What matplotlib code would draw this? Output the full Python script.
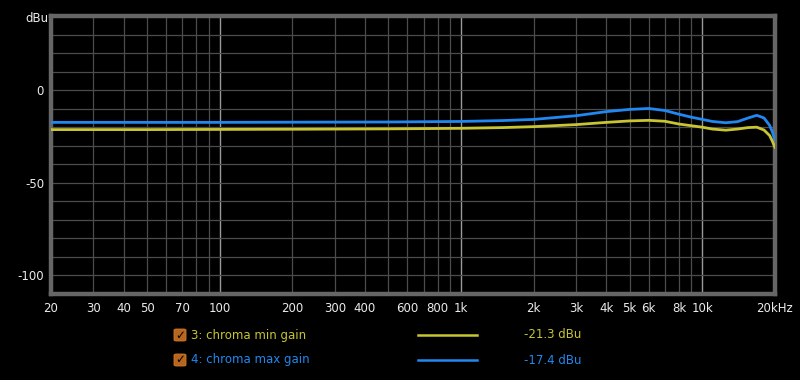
import matplotlib
matplotlib.use("Agg")
import matplotlib.pyplot as plt
from matplotlib.patches import FancyBboxPatch
from matplotlib.lines import Line2D

# ---- data ----
freqs = [20, 50, 100, 200, 500, 1000, 1500, 2000, 3000, 4000, 5000, 6000, 7000,
         8000, 9000, 10000, 11000, 12500, 14000, 15500, 16800, 18000, 19000, 19500, 20000]
min_gain = [-21.3, -21.3, -21.2, -21.1, -20.9, -20.6, -20.2, -19.7, -18.6, -17.4, -16.6,
            -16.3, -16.8, -18.3, -19.2, -20.0, -21.0, -21.6, -21.0, -20.2, -20.0, -21.5,
            -24.5, -27.5, -31.0]
max_gain = [-17.4, -17.4, -17.4, -17.3, -17.2, -16.9, -16.4, -15.8, -13.8, -11.6, -10.4,
            -9.9, -11.0, -13.0, -14.6, -15.8, -16.9, -17.6, -17.0, -15.0, -13.6, -15.0,
            -19.0, -22.5, -27.0]
series_names = ["3: chroma min gain", "4: chroma max gain"]
series_values = ["-21.3 dBu", "-17.4 dBu"]
xtick_vals = [20, 30, 40, 50, 70, 100, 200, 300, 400, 600, 800, 1000, 2000, 3000, 4000,
              5000, 6000, 8000, 10000, 20000]
xtick_labels = ["20", "30", "40", "50", "70", "100", "200", "300", "400", "600", "800",
                "1k", "2k", "3k", "4k", "5k", "6k", "8k", "10k", "20kHz"]
ytick_vals = [0, -50, -100]
ytick_labels = ["0", "-50", "-100"]

# ---- style ----
YEL = "#c8c432"
BLU = "#2088f0"
TXT = "#ebebeb"
plt.rcParams['font.family'] = ['DejaVu Sans']

fig = plt.figure(figsize=(8, 3.8), dpi=100, facecolor="black")
ax = fig.add_axes([51/800, 1-294/380, 724/800, 278/380])
ax.set_facecolor("black")
ax.set_xscale("log")
ax.set_xlim(20, 20000)
ax.set_ylim(-110, 40)

# grid
for dec in [10, 100, 1000, 10000]:
    for m in range(1, 10):
        f = dec * m
        if 20 <= f <= 20000:
            major = m == 1
            ax.axvline(f, color="#9a9a9a" if major else "#4c4c4c",
                       lw=1.0 if major else 0.9, zorder=1)
for yv in range(-100, 31, 10):
    ax.axhline(yv, color="#4c4c4c", lw=0.9, zorder=1)

ax.plot(freqs, min_gain, color=YEL, lw=2.0, zorder=3, solid_capstyle="round")
ax.plot(freqs, max_gain, color=BLU, lw=2.0, zorder=4, solid_capstyle="round")

ax.set_xticks(xtick_vals)
ax.set_xticklabels(xtick_labels)
ax.xaxis.set_minor_locator(matplotlib.ticker.NullLocator())
ax.set_yticks(ytick_vals)
ax.set_yticklabels(ytick_labels)
ax.tick_params(axis="both", length=0, colors=TXT, labelsize=8.5)
ax.tick_params(axis="x", pad=6)
ax.tick_params(axis="y", pad=5)
for s in ax.spines.values():
    s.set_color("#666666")
    s.set_linewidth(3.2)

fig.text(25/800, 1-19/380, "dBu", color=TXT, fontsize=8.5, ha="left", va="center")

# legend
rows_y = [335, 360]
colors = [YEL, BLU]
for yy, name, val, c in zip(rows_y, series_names, series_values, colors):
    fy = 1 - yy/380
    box = FancyBboxPatch((174/800, fy - 6/380), 12/800, 12/380,
                         boxstyle="round,pad=0,rounding_size=0.003",
                         transform=fig.transFigure, facecolor="#b8651e",
                         edgecolor="#d07a30", lw=0.6)
    fig.add_artist(box)
    fig.text(180/800, fy, "\u2713", color="black", fontsize=8.5, ha="center",
             va="center", fontweight="bold")
    fig.text(191/800, fy, name, color=c, fontsize=8.5, ha="left", va="center")
    fig.add_artist(Line2D([418/800, 477/800], [fy, fy], transform=fig.transFigure,
                          color=c, lw=1.8))
    fig.text(524/800, fy, val, color=c, fontsize=8.5, ha="left", va="center")

fig.savefig("out.png", dpi=100, facecolor="black")
